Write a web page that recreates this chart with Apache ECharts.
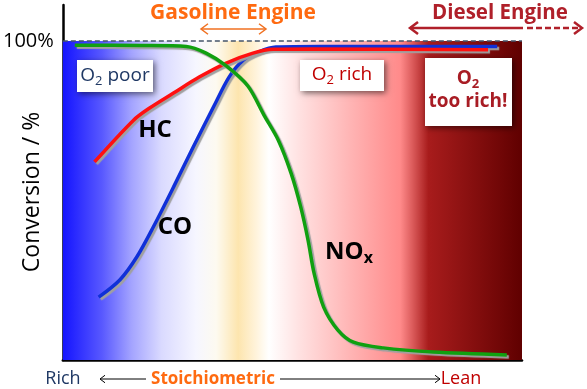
<!DOCTYPE html>
<html><head><meta charset="utf-8">
<script src="https://cdn.jsdelivr.net/npm/echarts@6/dist/echarts.min.js"></script>
<style>html,body{margin:0;padding:0;background:#fff}#c{width:587px;height:389px}</style>
</head><body><div id="c"></div>
<script>
// Conversion (%) vs air/fuel position (0 = rich ... 100 = lean)
const coData = [[7.8,19.7],[12.4,25.1],[16.1,32.3],[19.7,41.7],[24.1,54.2],[28.4,66.8],[32.8,79.3],[36.2,88.7],[39.3,94.0],[42.7,96.6],[46.4,98.1],[56.2,98.3],[94.6,98.3]];
const hcData = [[6.9,62.1],[15.4,75.2],[18.9,79.0],[24.1,83.7],[29.7,88.7],[35.6,93.1],[41.4,96.2],[45.8,97.4],[54.0,97.5],[92.6,97.3]];
const noxData = [[2.6,98.7],[17.1,98.6],[26.9,98.3],[31.2,96.2],[35.6,92.2],[40.3,85.9],[43.8,76.8],[46.9,69.0],[49.7,58.6],[51.8,48.0],[53.4,37.6],[54.7,27.3],[56.8,16.6],[59.9,9.4],[63.3,5.6],[69.8,3.8],[80.7,2.5],[96.7,1.6]];
const yTickLabels = {100: '100%'};

const FONT = '"Open Sans", sans-serif';
const chart = echarts.init(document.getElementById('c'), null, {renderer: 'canvas'});

const bgStops = [
  [0, '#1414ff'], [0.085, '#5858ff'], [0.15, '#a4a4ff'], [0.215, '#dadaff'],
  [0.29, '#f6f6ff'], [0.334, '#fdfaf0'], [0.382, '#fde5ae'], [0.42, '#fff3da'],
  [0.449, '#ffffff'], [0.518, '#ffe0e0'], [0.627, '#ffb4b4'], [0.735, '#ff8a8a'],
  [0.761, '#dc5c5c'], [0.796, '#a81c1c'], [1, '#600000']
].map(s => ({offset: s[0], color: s[1]}));

function lineSeries(name, data, color, extra) {
  return Object.assign({
    name, type: 'line', data, smooth: 0.3, symbol: 'none', z: 3,
    lineStyle: {color, width: 3.5, shadowColor: '#a0a0a0', shadowBlur: 1, shadowOffsetX: 2, shadowOffsetY: 2}
  }, extra || {});
}

function arrowHead(x, y, dir, size, color, w) {
  return {type: 'polyline', silent: true, z: 20,
    shape: {points: [[x - dir * size, y - size * 0.75], [x, y], [x - dir * size, y + size * 0.75]]},
    style: {stroke: color, lineWidth: w, fill: null}};
}
function hline(x1, x2, y, color, w, dash) {
  return {type: 'line', silent: true, z: 20, shape: {x1, y1: y, x2, y2: y},
    style: {stroke: color, lineWidth: w, lineDash: dash || null}};
}
function box(x, y, w, h) {
  return {type: 'rect', silent: true, z: 10, shape: {x, y, width: w, height: h},
    style: {fill: '#fff', shadowBlur: 6, shadowColor: 'rgba(0,0,0,0.55)', shadowOffsetX: 2, shadowOffsetY: 2}};
}
function txt(x, y, text, color, size, bold, rich, extra) {
  return Object.assign({type: 'text', silent: true, z: 21, x, y,
    style: {text, fill: color, font: (bold ? 'bold ' : '') + size + 'px ' + FONT,
      fontFamily: FONT, fontSize: size, fontWeight: bold ? 'bold' : 'normal',
      align: 'center', verticalAlign: 'middle', rich: rich || undefined}}, extra || {});
}
function subRich(color, size, bold) {
  return {
    m: {fill: color, fontSize: size, fontFamily: FONT, fontWeight: bold ? 'bold' : 'normal', lineHeight: size + 4, verticalAlign: 'middle'},
    s: {fill: color, fontSize: Math.round(size * 0.68), fontFamily: FONT, fontWeight: bold ? 'bold' : 'normal', lineHeight: Math.round(size * 0.68), verticalAlign: 'bottom'}
  };
}

const option = {
  animation: false,
  grid: {left: 61, right: 65, top: 5, bottom: 29, containLabel: false},
  xAxis: {type: 'value', min: 0, max: 100, axisLine: {show: true, lineStyle: {color: '#000', width: 2.5}},
    axisTick: {show: false}, axisLabel: {show: false}, splitLine: {show: false}},
  yAxis: {type: 'value', min: 0, max: 111.3, interval: 100,
    axisLine: {show: true, lineStyle: {color: '#000', width: 2.5}}, axisTick: {show: false},
    splitLine: {show: false},
    axisLabel: {show: true, margin: 9, color: '#000', fontFamily: FONT, fontSize: 20,
      formatter: v => yTickLabels[v] || ''}},
  series: [
    lineSeries('CO', coData, '#1030d8', {
      markArea: {silent: true, z: 1, itemStyle: {opacity: 1, color: {type: 'linear', x: 0, y: 0, x2: 1, y2: 0, colorStops: bgStops}},
        data: [[{xAxis: 0, yAxis: 0}, {xAxis: 100, yAxis: 100}]]},
      markLine: {silent: true, symbol: 'none', label: {show: false}, z: 2,
        lineStyle: {color: '#44546a', type: [5, 3], width: 1.5}, data: [{yAxis: 100}]}
    }),
    lineSeries('HC', hcData, '#ff1010'),
    lineSeries('NOx', noxData, '#10a010', {z: 4})
  ],
  graphic: [
    // y-axis title
    txt(32, 192, 'Conversion / %', '#000', 23, false, null, {rotation: Math.PI / 2}),
    // top engine labels
    txt(233, 13, 'Gasoline Engine', '#ff6a10', 21, true),
    hline(201, 266, 29, '#f07020', 1.5), arrowHead(201, 29, -1, 7, '#f07020', 1.5), arrowHead(266, 29, 1, 7, '#f07020', 1.5),
    txt(500, 13, 'Diesel Engine', '#b0202a', 20.5, true),
    hline(410, 523, 28, '#b0202a', 2.5), hline(527, 580, 28, '#b0202a', 2.5, [6, 3]),
    arrowHead(410, 28, -1, 8, '#b0202a', 2.5), arrowHead(582, 28, 1, 8, '#b0202a', 2.5),
    // bottom axis labels
    txt(63, 379, 'Rich', '#1f3864', 18, false),
    txt(213, 379, 'Stoichiometric', '#ff6a10', 17, true),
    hline(100, 146, 379, '#000', 1), arrowHead(100, 379, -1, 5, '#000', 1),
    hline(280, 440, 379, '#000', 1), arrowHead(440, 379, 1, 5, '#000', 1),
    txt(461, 379, 'Lean', '#c00000', 18, false),
    // region boxes
    box(77, 60, 76, 32),
    txt(115, 76, '{m|O}{s|2}{m| poor}', '#1f3864', 19, false, subRich('#1f3864', 19, false)),
    box(300, 60, 84, 31),
    txt(342, 75, '{m|O}{s|2}{m| rich}', '#c00000', 19, false, subRich('#c00000', 19, false)),
    box(425, 58, 87, 68),
    txt(468, 79, '{m|O}{s|2}', '#a81c24', 19, true, subRich('#a81c24', 19, true)),
    txt(468, 102, 'too rich!', '#a81c24', 19, true),
    // curve labels
    txt(155, 130, 'HC', '#000', 24, true),
    txt(175, 227, 'CO', '#000', 24, true),
    txt(349, 252, '{m|NO}{s|x}', '#000', 24, true, subRich('#000', 24, true))
  ]
};
chart.setOption(option);
</script></body></html>
